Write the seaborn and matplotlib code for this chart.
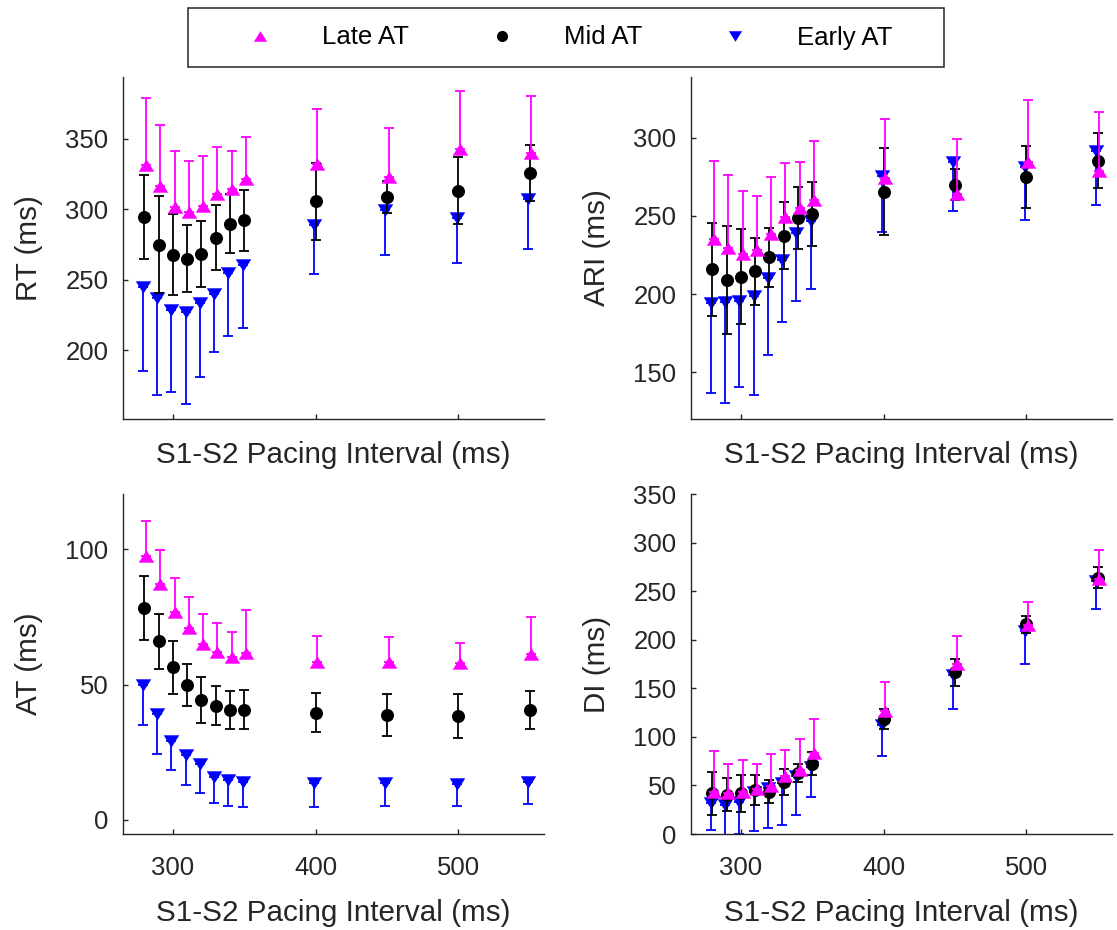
import numpy as np
import pandas as pd
import matplotlib
matplotlib.use("Agg")
import matplotlib.pyplot as plt
from matplotlib.path import Path
from matplotlib.lines import Line2D
from matplotlib.patches import Rectangle
import seaborn as sns

# ---------------- data ----------------
intervals = [280, 290, 300, 310, 320, 330, 340, 350, 400, 450, 500, 550]
groups = ["Late AT", "Mid AT", "Early AT"]

rt_late = [331.5, 316.6, 301.4, 298.3, 302.6, 310.9, 314.2, 321.3, 332.2, 322.8, 343.1, 339.8]
rt_late_err = [47.4, 43.1, 39.8, 36.1, 35.6, 33.2, 27.5, 30.4, 39.4, 35.2, 40.8, 40.8]
rt_mid = [294.5, 274.9, 267.8, 264.7, 268.5, 279.9, 289.8, 292.2, 305.7, 309.0, 313.3, 325.6]
rt_mid_err = [29.8, 34.2, 28.8, 23.8, 23.4, 23.1, 21.0, 21.6, 27.5, 11.4, 23.7, 19.8]
rt_early = [245.0, 237.2, 228.2, 226.8, 233.2, 239.8, 255.0, 260.4, 288.9, 299.5, 293.8, 307.1]
rt_early_err = [59.9, 69.2, 58.3, 65.2, 52.6, 41.5, 45.0, 45.0, 35.1, 32.0, 32.2, 35.3]

ari_late = [235.3, 229.5, 225.4, 228.0, 238.5, 249.1, 255.1, 260.3, 274.4, 264.1, 284.8, 279.1]
ari_late_err = [50.2, 46.6, 40.4, 35.0, 36.5, 34.9, 29.3, 37.4, 37.8, 35.3, 39.6, 37.4]
ari_mid = [215.8, 209.0, 211.1, 214.7, 223.5, 237.4, 248.7, 251.3, 265.6, 270.1, 274.8, 285.5]
ari_mid_err = [30.0, 34.4, 30.5, 21.4, 18.7, 21.4, 19.7, 20.3, 27.8, 9.8, 19.7, 17.8]
ari_early = [194.2, 194.7, 195.7, 198.9, 210.3, 221.8, 238.9, 246.6, 275.6, 284.4, 281.2, 291.9]
ari_early_err = [57.5, 64.7, 55.1, 63.7, 49.0, 40.0, 43.2, 43.6, 35.6, 31.4, 34.0, 35.1]

at_late = [97.5, 87.2, 76.9, 71.1, 65.0, 62.0, 60.1, 61.6, 58.5, 58.5, 58.1, 61.2]
at_late_err = [13.2, 12.7, 12.4, 11.3, 11.0, 10.9, 9.3, 15.9, 9.4, 9.1, 7.4, 13.7]
at_mid = [78.4, 66.0, 56.5, 49.9, 44.2, 42.2, 40.8, 40.8, 39.6, 38.8, 38.4, 40.5]
at_mid_err = [11.8, 10.2, 9.8, 7.8, 8.5, 7.2, 7.0, 7.2, 7.2, 7.6, 8.0, 7.0]
at_early = [49.8, 39.2, 29.3, 24.1, 20.6, 16.0, 14.9, 13.9, 13.6, 13.6, 13.4, 14.2]
at_early_err = [14.8, 14.7, 11.0, 11.3, 10.8, 9.8, 9.9, 9.2, 9.0, 8.4, 8.4, 8.3]

di_late = [43.7, 42.0, 43.0, 46.5, 48.9, 59.2, 66.1, 83.3, 127.0, 174.5, 214.7, 262.9]
di_late_err = [41.3, 30.3, 33.0, 25.8, 33.7, 27.5, 31.6, 35.1, 29.2, 29.5, 24.4, 29.6]
di_mid = [42.0, 40.3, 42.0, 45.4, 43.7, 54.0, 62.6, 72.3, 118.4, 166.5, 215.7, 263.9]
di_mid_err = [22.0, 17.0, 19.2, 15.2, 12.0, 13.4, 9.2, 12.0, 9.8, 13.8, 8.6, 10.6]
di_early = [31.7, 29.9, 33.4, 43.7, 47.1, 52.3, 59.2, 68.8, 112.5, 164.1, 208.9, 260.5]
di_early_err = [27.6, 30.5, 33.4, 40.6, 40.6, 43.0, 39.6, 30.3, 32.7, 35.4, 34.4, 28.6]

x_ticks = [300, 400, 500]
rt_ticks = [200, 250, 300, 350]
ari_ticks = [150, 200, 250, 300]
at_ticks = [0, 50, 100]
di_ticks = [0, 50, 100, 150, 200, 250, 300, 350]

# ---------------- style ----------------
sns.set_theme(style="ticks")
plt.rcParams['font.family'] = ['Liberation Sans', 'DejaVu Sans']

W, H = 1117, 930
fig = plt.figure(figsize=(W / 100, H / 100), dpi=100)

DARK = '#262626'
colors = {"Late AT": '#FF00FF', "Mid AT": '#000000', "Early AT": '#0000FF'}
offsets = {"Late AT": 1.2, "Mid AT": 0.0, "Early AT": -1.2}

tri_up = Path([(0, 0.8), (-1, -0.8), (1, -0.8), (0, 0.8)],
              [Path.MOVETO, Path.LINETO, Path.LINETO, Path.CLOSEPOLY])
tri_down = Path([(0, -0.8), (-1, 0.8), (1, 0.8), (0, -0.8)],
                [Path.MOVETO, Path.LINETO, Path.LINETO, Path.CLOSEPOLY])
markers = {"Late AT": tri_up, "Mid AT": 'o', "Early AT": tri_down}
sizes = {"Late AT": 125, "Mid AT": 88, "Early AT": 125}


def panel(rect, means, errs, ylabel, ylim, yticks, show_xticklabels):
    ax = fig.add_axes(rect)
    rows = []
    for g, m, e in zip(groups, means, errs):
        for xi, mi, ei in zip(intervals, m, e):
            rows.append({"x": xi + offsets[g], "y": mi, "err": ei, "group": g})
    df = pd.DataFrame(rows)
    # draw Early first, Late last (on top)
    for z, g in enumerate(["Early AT", "Mid AT", "Late AT"]):
        d = df[df.group == g]
        if g == "Late AT":
            yerr = [np.zeros(len(d)), d.err.values]
        elif g == "Early AT":
            yerr = [d.err.values, np.zeros(len(d))]
        else:
            yerr = [d.err.values, d.err.values]
        ax.errorbar(d.x, d.y, yerr=yerr, fmt='none', ecolor=colors[g],
                    elinewidth=1.3, capsize=3.4, capthick=1.3, zorder=2 + 2 * z)
        sns.scatterplot(data=d, x="x", y="y", ax=ax, color=colors[g],
                        marker=markers[g], s=sizes[g], linewidth=0,
                        zorder=3 + 2 * z, legend=False)
    ax.set_xlim(265, 560)
    ax.set_ylim(*ylim)
    ax.set_xticks(x_ticks)
    ax.set_yticks(yticks)
    sns.despine(ax=ax)
    for s in ['left', 'bottom']:
        ax.spines[s].set_color(DARK)
        ax.spines[s].set_linewidth(1.0)
    ax.tick_params(axis='both', direction='in', length=3.6, width=1.0,
                   color=DARK, labelcolor=DARK, labelsize=18.5)
    ax.tick_params(axis='y', pad=10.5)
    ax.tick_params(axis='x', pad=16, labelbottom=show_xticklabels)
    ax.set_xlabel("S1-S2 Pacing Interval (ms)", fontsize=21.3, color=DARK,
                  labelpad=(13.5 if show_xticklabels else 15.5))
    ax.set_ylabel(ylabel, fontsize=21.3, color=DARK, labelpad=16)
    return ax


def r(l, t, rr, b):
    return [l / W, 1 - b / H, (rr - l) / W, (b - t) / H]


panel(r(123, 77, 544, 419), [rt_late, rt_mid, rt_early],
      [rt_late_err, rt_mid_err, rt_early_err], "RT (ms)", (151, 394), rt_ticks, False)
panel(r(691, 77, 1112, 419), [ari_late, ari_mid, ari_early],
      [ari_late_err, ari_mid_err, ari_early_err], "ARI (ms)", (120, 339), ari_ticks, False)
panel(r(123, 494, 544, 834), [at_late, at_mid, at_early],
      [at_late_err, at_mid_err, at_early_err], "AT (ms)", (-5.2, 120.5), at_ticks, True)
panel(r(691, 494, 1112, 834), [di_late, di_mid, di_early],
      [di_late_err, di_mid_err, di_early_err], "DI (ms)", (0, 350), di_ticks, True)

# ---------------- legend ----------------
handles = [
    Line2D([], [], linestyle='none', marker=tri_up, markersize=9.5, color=colors["Late AT"], markeredgewidth=0),
    Line2D([], [], linestyle='none', marker='o', markersize=8, color=colors["Mid AT"], markeredgewidth=0),
    Line2D([], [], linestyle='none', marker=tri_down, markersize=9.5, color=colors["Early AT"], markeredgewidth=0),
]
fig.patches.append(Rectangle((188 / W, 1 - 67 / H), (944 - 188) / W, 59 / H,
                             transform=fig.transFigure, facecolor='white',
                             edgecolor='#262626', linewidth=1.1, zorder=0))
fs = 18.5
em = fs / 72 * 100
hl = 124 / em
fig.legend(handles=handles, labels=groups, ncol=3, frameon=False,
           loc='center left', bbox_to_anchor=((260 - 62) / W, 1 - 37.5 / H),
           borderpad=0, borderaxespad=0, handlelength=hl, handletextpad=0.0,
           columnspacing=31 / em, fontsize=fs, labelcolor='black')

fig.savefig("out.png", dpi=100)
